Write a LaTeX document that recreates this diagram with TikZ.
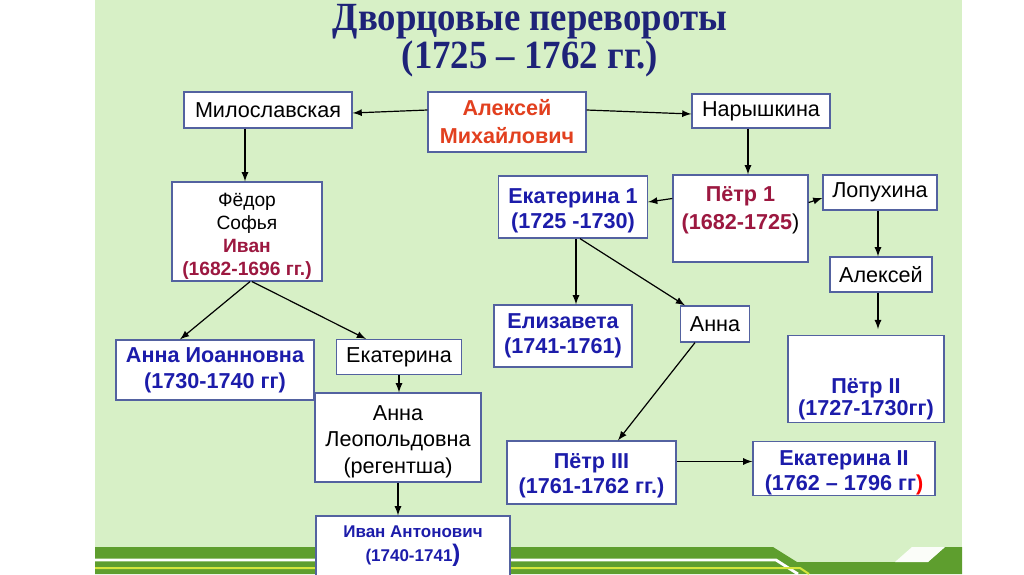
\documentclass[tikz,border=0pt]{standalone}
\usepackage{fontspec}
\setmainfont{Liberation Sans}
\newfontfamily\titlefont{Liberation Serif}
\usepackage{tikz}
\usetikzlibrary{positioning, arrows.meta, calc}

\definecolor{panel}{HTML}{D7F0C6}
\definecolor{band}{HTML}{5E9E2E}
\definecolor{stripe}{HTML}{D4E63C}
\definecolor{boxline}{HTML}{5362A0}
\definecolor{navy}{HTML}{1E2378}
\definecolor{tsarblue}{HTML}{1C1CAA}
\definecolor{tsarred}{HTML}{9C1840}
\definecolor{headred}{HTML}{E2401F}

\newcommand{\tsar}[1]{\textcolor{tsarblue}{\bfseries #1}}
\newcommand{\heir}[1]{\textcolor{tsarred}{\bfseries #1}}
\newcommand{\narrow}[1]{\scalebox{0.92}[1]{#1}}

\begin{document}
\begin{tikzpicture}[x=0.5pt, y=-0.5pt,
        box/.style={draw=boxline, fill=white, line width=0.6pt, align=center, inner sep=1pt,
            font=\fontsize{10.8}{12.5}\selectfont},
        rel/.style={->, >=latex, line width=0.6pt}
    ]
    \useasboundingbox (0,0) rectangle (1024,574);
    % slide background
    \fill[panel] (95,0) rectangle (962,574);
    \fill[band] (95,547) -- (773,547) -- (797,562) -- (928,562) -- (945,547) -- (962,547)
        -- (962,574) -- (95,574) -- cycle;
    \fill[white!90!panel] (895,562) -- (912,547) -- (945,547) -- (928,562) -- cycle;
    \draw[white, line width=1.4pt] (95,560) -- (776,560) -- (798,574);
    \draw[stripe, line width=1pt] (95,568) -- (800,568) -- (809,574);

    % title
    \node[font=\titlefont\bfseries\fontsize{20}{18}\selectfont, text=navy, align=center]
        (title) at (530,41) {\narrow{Дворцовые перевороты}\\\narrow{(1725 – 1762 гг.)}};

    % top row
    \node[box, minimum width=84pt, minimum height=18pt] (mil) at (268,110) {Милославская};
    \node[box, minimum width=79pt, minimum height=30pt, text=headred,
        font=\bfseries\fontsize{10.8}{14}\selectfont] (alex) at (507,122) {Алексей\\Михайлович};
    \node[box, minimum width=69pt, minimum height=17pt] (nar) at (761,111) {Нарышкина};

    % Miloslavsky line
    \node[box, minimum width=75pt, minimum height=49.5pt, inner ysep=0pt,
        font=\fontsize{9.6}{11.5}\selectfont]
        (fed) at (247,231.5) {\mbox{}\\[-0.4pt]Фёдор\\Софья\\\heir{Иван}\\\heir{(1682-1696 гг.)}};
    \node[box, minimum width=99pt, minimum height=30pt, font=\fontsize{10.8}{13}\selectfont]
        (annai) at (215,370) {\tsar{Анна Иоанновна}\\\tsar{(1730-1740 гг)}};
    \node[box, minimum width=62.5pt, minimum height=17.5pt] (ekl) at (399,357) {Екатерина};
    \node[box, minimum width=83pt, minimum height=44.5pt, font=\fontsize{10.8}{13.2}\selectfont]
        (annal) at (398,437.5) {\mbox{}\\[-1.5pt]Анна\\Леопольдовна\\(регентша)};
    \node[box, minimum width=97pt, minimum height=30pt, font=\fontsize{8.5}{12}\selectfont]
        (ivan) at (413,546) {\tsar{Иван Антонович}\\\tsar{(1740-1741}\textcolor{tsarblue}{\bfseries\large )}};

    % Naryshkin line
    \node[box, minimum width=67.5pt, minimum height=43.5pt, font=\fontsize{10.8}{14}\selectfont]
        (pet1) at (740.5,218.5) {\heir{Пётр 1}\\\heir{(1682-1725}\textcolor{black}{)}\\[-4pt]\mbox{}};
    \node[box, minimum width=74.5pt, minimum height=31pt] (ek1) at (573,207)
        {\mbox{}\\[-0.8pt]\tsar{Екатерина 1}\\\tsar{(1725 -1730)}};
    \node[box, minimum width=57pt, minimum height=17.5pt] (lop) at (880,192.5) {Лопухина};
    \node[box, minimum width=51pt, minimum height=17.5pt] (alr) at (881,274.5) {Алексей};
    \node[box, minimum width=69pt, minimum height=31pt] (eliz) at (563,336)
        {\tsar{Елизавета}\\\tsar{(1741-1761)}};
    \node[box, minimum width=34.5pt, minimum height=18pt] (anna) at (715,324) {Анна};
    \node[box, minimum width=78pt, minimum height=40pt, font=\fontsize{10.8}{11}\selectfont]
        (pet2) at (866,379) {\mbox{}\\[17pt]\tsar{Пётр II}\\\tsar{(1727-1730гг)}};
    \node[box, minimum width=84.5pt, minimum height=31.5pt] (pet3) at (591.5,472.5)
        {\mbox{}\\[-2pt]\tsar{Пётр III}\\\tsar{(1761-1762 гг.)}};
    \node[box, minimum width=91pt, minimum height=27pt, inner ysep=0pt] (ek2) at (844,468.5)
        {\mbox{}\\[-0.3pt]\tsar{Екатерина II}\\\tsar{(1762 – 1796 гг}\textcolor{red}{\bfseries )}};

    % connectors
    \draw[rel] ([yshift=6pt]alex.west) -- ([yshift=-1.5pt]mil.east);
    \draw[rel] ([yshift=6pt]alex.east) -- ([yshift=-1.5pt]nar.west);
    \draw[rel] ([xshift=-11.5pt]mil.south) -- ([xshift=-11.5pt]mil.south |- fed.north);
    \draw[rel] ([xshift=-6.5pt]nar.south) -- ([xshift=-6.5pt]nar.south |- pet1.north);
    \draw[rel] ([xshift=1.5pt]fed.south) -- ([xshift=-17.5pt]annai.north);
    \draw[rel] ([xshift=2.5pt]fed.south) -- ([xshift=-16.5pt]ekl.north);
    \draw[rel] (ekl.south) -- (ekl.south |- annal.north);
    \draw[rel] (annal.south) -- (annal.south |- ivan.north);
    \draw[rel] ([yshift=10pt]pet1.west) -- ([yshift=2.5pt]ek1.east);
    \draw[rel] ([yshift=8pt]pet1.east) -- ([yshift=-2.75pt]lop.west);
    \draw[rel] ([xshift=-1pt]lop.south) -- ([xshift=-1pt]lop.south |- alr.north);
    \draw[rel] ([xshift=-1.5pt]alr.south) -- ([xshift=-1.5pt,yshift=3pt]alr.south |- pet2.north);
    \draw[rel] ([xshift=1.5pt]ek1.south) -- ([xshift=1.5pt]ek1.south |- eliz.north);
    \draw[rel] ([xshift=3.5pt]ek1.south) -- ([xshift=-15pt]anna.north);
    \draw[rel] ([xshift=-10pt]anna.south) -- ([xshift=13.25pt]pet3.north);
    \draw[rel] ([yshift=5.5pt]pet3.east) -- ([yshift=5.5pt]pet3.east -| ek2.west);

\end{tikzpicture}
\end{document}
